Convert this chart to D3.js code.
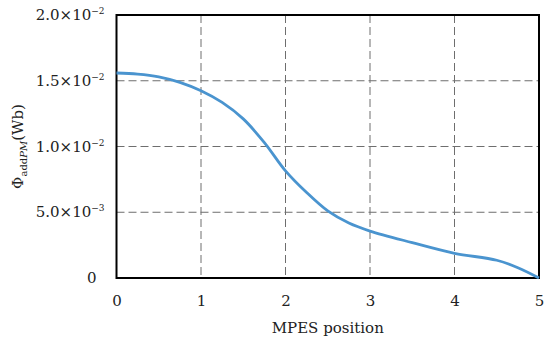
<!DOCTYPE html>
<html>
<head>
<meta charset="utf-8">
<title>Phi addPM vs MPES position</title>
<style>
  body { margin: 0; background: #fff; }
  svg text { font-family: "DejaVu Serif", "Liberation Serif", serif; fill: #222; }
</style>
</head>
<body>
<svg id="chart" width="550" height="356"></svg>
<script src="https://d3js.org/d3.v7.min.js"></script>
<script>
// MPES position vs flux (Wb)
var positions = [0, 0.25, 0.5, 0.75, 1, 1.25, 1.5, 1.75, 2, 2.25, 2.5, 2.75, 3, 3.5, 4, 4.5, 4.75, 5];
var fluxValues = [0.01559, 0.01551, 0.01530, 0.01488, 0.01424, 0.01335, 0.01210, 0.01030, 0.00815,
                  0.00650, 0.00510, 0.00418, 0.00357, 0.00269, 0.00188, 0.00135, 0.00078, 0];
var xTicks = [0, 1, 2, 3, 4, 5];
var yTicks = [0, 0.005, 0.010, 0.015, 0.020];
var yTickMantissa = ["0", "5.0", "1.0", "1.5", "2.0"];
var yTickExponent = ["", "−3", "−2", "−2", "−2"];

var svg = d3.select('#chart');
var margin = {left: 116.5, top: 15, right: 11, bottom: 78};
var width = 550 - margin.left - margin.right;
var height = 356 - margin.top - margin.bottom;

var x = d3.scaleLinear().domain([0, 5]).range([0, width]);
var y = d3.scaleLinear().domain([0, 0.02]).range([height, 0]);

var g = svg.append('g').attr('transform', 'translate(' + margin.left + ',' + margin.top + ')');

// dashed grid
g.selectAll('.vgrid').data(xTicks.slice(1, -1)).enter().append('line')
  .attr('x1', function (d) { return x(d); }).attr('x2', function (d) { return x(d); })
  .attr('y1', 0).attr('y2', height)
  .attr('stroke', '#6e6e6e').attr('stroke-width', 1).attr('stroke-dasharray', '8,4');
g.selectAll('.hgrid').data(yTicks.slice(1, -1)).enter().append('line')
  .attr('x1', 0).attr('x2', width)
  .attr('y1', function (d) { return y(d); }).attr('y2', function (d) { return y(d); })
  .attr('stroke', '#6e6e6e').attr('stroke-width', 1).attr('stroke-dasharray', '8,4');

// frame
g.append('rect').attr('x', 0).attr('y', 0).attr('width', width).attr('height', height)
  .attr('fill', 'none').attr('stroke', '#000').attr('stroke-width', 2);

// curve
var line = d3.line()
  .x(function (d, i) { return x(positions[i]); })
  .y(function (d) { return y(d); })
  .curve(d3.curveCatmullRom.alpha(0.5));
g.append('path').datum(fluxValues)
  .attr('d', line).attr('fill', 'none')
  .attr('stroke', '#4a94cf').attr('stroke-width', 2.8);

// x tick labels
var xAxis = d3.axisBottom(x).tickValues(xTicks).tickSize(0).tickPadding(17).tickFormat(d3.format('d'));
var xa = g.append('g').attr('transform', 'translate(0,' + height + ')').call(xAxis);
xa.select('.domain').remove();
xa.selectAll('text').style('font-size', '15px').style('font-family', '"DejaVu Serif", serif').attr('fill', '#222');

// y tick labels with powers of ten
var yl = g.selectAll('.ylab').data(yTicks).enter().append('text')
  .attr('x', -12).attr('y', function (d) { return y(d) + 5; })
  .attr('text-anchor', 'end').style('font-size', '15px');
yl.each(function (d, i) {
  var t = d3.select(this);
  if (i === 0) { t.attr('x', -20).text('0'); return; }
  t.append('tspan').text(yTickMantissa[i] + '×10');
  t.append('tspan').attr('dy', -6).style('font-size', '9px').text(yTickExponent[i]);
});

// x title
svg.append('text').attr('x', margin.left + width / 2).attr('y', 333)
  .attr('text-anchor', 'middle').style('font-size', '15px').text('MPES position');

// y title
var yt = svg.append('text').attr('transform', 'translate(23,' + (margin.top + height / 2) + ') rotate(-90)')
  .attr('text-anchor', 'middle').style('font-size', '15px');
yt.append('tspan').text('Φ');
yt.append('tspan').attr('dy', 4).style('font-size', '10px').text('add');
yt.append('tspan').style('font-size', '10px').style('font-style', 'italic').text('PM');
yt.append('tspan').attr('dy', -4).text('(Wb)');
</script>
</body>
</html>
